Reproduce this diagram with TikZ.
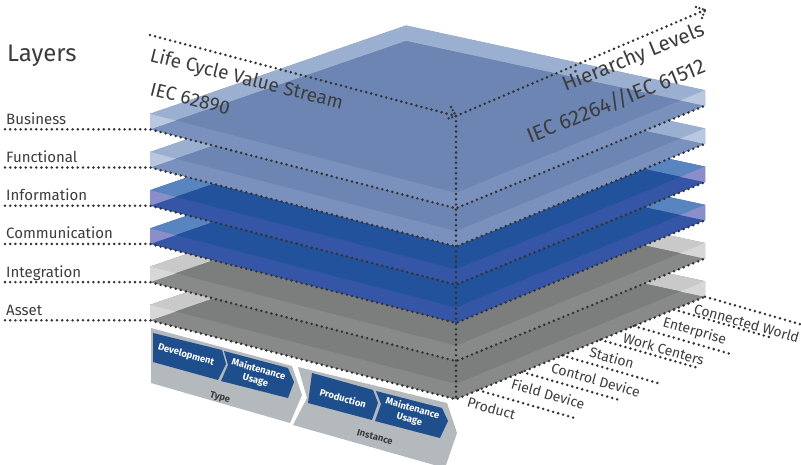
\documentclass[tikz,border=0pt]{standalone}
\usepackage{fontspec}
\setmainfont{Fira Sans}
\usetikzlibrary{calc}
\definecolor{txtgrey}{HTML}{3C3C3C}
\definecolor{dotgrey}{HTML}{333333}
\definecolor{barblue}{HTML}{1F4E8C}
\definecolor{bargrey}{HTML}{B3B9BC}
% layer colours: back band, middle, front band, corner wedge
\definecolor{paleB}{HTML}{9BAFD1}
\definecolor{paleM}{HTML}{6C85B2}
\definecolor{paleF}{HTML}{7A91BD}
\definecolor{paleW}{HTML}{B9C7DF}
\definecolor{blueB}{HTML}{5884BF}
\definecolor{blueM}{HTML}{21529B}
\definecolor{blueF}{HTML}{3556A6}
\definecolor{blueW}{HTML}{8B8ECB}
\definecolor{greyB}{HTML}{C8C9C8}
\definecolor{greyM}{HTML}{7B7E7C}
\definecolor{greyF}{HTML}{878A88}
\definecolor{greyW}{HTML}{D6D7D6}
\tikzset{
  dotline/.style = {dotgrey, line width=2.8pt, line cap=round,
    dash pattern=on 0pt off 5.2pt},
  barbline/.style = {dotgrey, line width=2.6pt, line cap=round,
    dash pattern=on 0pt off 3.6pt},
  axislabel/.style = {inner sep=0pt, txtgrey,
    font=\fontsize{19}{19}\selectfont},
  layerlabel/.style = {anchor=base west, inner sep=0pt, txtgrey,
    font=\fontsize{15}{15}\selectfont},
  hlabel/.style = {anchor=north west, inner sep=0pt, rotate=-16, txtgrey,
    font=\fontsize{14}{14}\selectfont},
  barlabel/.style = {inner sep=0pt, rotate=-16, align=center, white,
    font=\fontsize{9.5}{11}\selectfont\bfseries}
}
\begin{document}
\begin{tikzpicture}[x=1pt, y=-1pt]
\useasboundingbox (0,0) rectangle (801,464);
% layers, from the bottom up
\foreach \lay/\i/\cb/\cm/\cf/\cw in {asset/5/greyB/greyM/greyF/greyW,
    integ/4/greyB/greyM/greyF/greyW, comm/3/blueB/blueM/blueF/blueW,
    info/2/blueB/blueM/blueF/blueW, func/1/paleB/paleM/paleF/paleW,
    busi/0/paleB/paleM/paleF/paleW}{
  \pgfmathsetmacro{\d}{38.2*\i}
  \coordinate (\lay L) at (150,{129.3+\d});
  \coordinate (\lay K) at (406,{41+\d});
  \coordinate (\lay R) at (705,{105.7+\d});
  \coordinate (\lay F) at (456,{208.3+\d});
  \coordinate (\lay Lt) at (150,{113.8+\d});
  \coordinate (\lay Kt) at (406,{25.5+\d});
  \coordinate (\lay Rt) at (705,{90.2+\d});
  \coordinate (\lay Ft) at (456,{192.8+\d});
  \coordinate (\lay E) at (5,{129.3+\d});
  \coordinate (\lay Xl) at (intersection of \lay Lt--\lay Ft and \lay L--\lay K);
  \coordinate (\lay Xr) at (intersection of \lay Rt--\lay Ft and \lay R--\lay K);
  \fill[\cf] (\lay Lt) -- (\lay Kt) -- (\lay Rt) -- (\lay R) -- (\lay F) -- (\lay L) -- cycle;
  \fill[\cb] (\lay Lt) -- (\lay Kt) -- (\lay Rt) -- (\lay R) -- (\lay K) -- (\lay L) -- cycle;
  \fill[\cm] (\lay Xl) -- (\lay K) -- (\lay Xr) -- (\lay Ft) -- cycle;
  \fill[\cw] (\lay Lt) -- (\lay Xl) -- (\lay L) -- cycle;
  \fill[\cw] (\lay Rt) -- (\lay Xr) -- (\lay R) -- cycle;
}
% dotted edges of the layers
\foreach \lay in {busi, func, info, comm, integ, asset}
  \draw[dotline] (\lay E) -- (\lay L) -- (\lay F) -- (\lay R);
% axes, with dotted barbs at their ends
\coordinate (lcstart) at (150,35);
\coordinate (corner) at (456,116);
\coordinate (hlend) at (705,10);
\coordinate (lcbarbA) at ($(corner)+(-5,-9)$);
\coordinate (lcbarbB) at ($(corner)+(-9,3)$);
\coordinate (hlbarbA) at ($(hlend)+(-9,-3)$);
\coordinate (hlbarbB) at ($(hlend)+(-3,8)$);
\draw[dotline] (lcstart) -- (corner);
\draw[dotline] (corner) -- (hlend);
\draw[dotline] (corner) -- (assetF);
\draw[barbline] (lcbarbA) -- (corner) -- (lcbarbB);
\draw[barbline] (hlbarbA) -- (hlend) -- (hlbarbB);
% hierarchy levels
\foreach \name/\f/\k in {Product/0.089/1, Field Device/0.266/2,
    Control Device/0.427/3, Station/0.58/4, Work Centers/0.714/5,
    Enterprise/0.875/6, Connected World/1.0/7}{
  \coordinate (hs\k) at ($(assetF)!\f!(assetR)$);
  \coordinate (he\k) at ($(hs\k)+(97,28)$);
  \draw[dotline] (hs\k) -- (he\k);
  \node[hlabel] (hl\k) at ($(hs\k)+(-9,6)$) {\name};
}
% life cycle bar
\fill[bargrey] (151,328) -- (292,366) -- (302,395) -- (290,423) -- (151,383) -- cycle;
\fill[bargrey] (298,367) -- (447,403) -- (457,433) -- (445,468) -- (293,425) -- (307,398) -- cycle;
\fill[barblue] (153,333) -- (222,350) -- (226,364) -- (218,380) -- (153,362) -- cycle;
\fill[barblue] (224,351) -- (288,368) -- (294,382) -- (288,398) -- (221,381) -- (228,365) -- cycle;
\fill[barblue] (312,373) -- (373,390) -- (378,403) -- (372,420) -- (308,403) -- cycle;
\fill[barblue] (376,391) -- (442,408) -- (448,421) -- (440,438) -- (375,421) -- (381,404) -- cycle;
\node[barlabel] (dev) at (186,355) {Development};
\node[barlabel] (mtype) at (257,375) {Maintenance\\Usage};
\node[barlabel, txtgrey] (type) at (220,398) {Type};
\node[barlabel] (prod) at (343,398) {Production};
\node[barlabel] (minst) at (411,414) {Maintenance\\Usage};
\node[barlabel, txtgrey] (inst) at (375,437) {Instance};
% texts
\node[axislabel, anchor=base west, font=\fontsize{24}{24}\selectfont] (layers) at (7,61) {Layers};
\node[axislabel, anchor=base west, rotate=-14] (lcvs) at (149,61) {Life Cycle Value Stream};
\node[axislabel, anchor=base west, rotate=-14] (iec1) at (149,95) {IEC 62890};
\node[axislabel, anchor=base east, rotate=22, font=\fontsize{20.5}{20.5}\selectfont] (hier) at (706,35) {Hierarchy Levels};
\node[axislabel, anchor=base east, rotate=22, font=\fontsize{21}{21}\selectfont] (iec2) at (707,72) {IEC 62264//IEC 61512};
\foreach \name/\i in {Business/0, Functional/1, Information/2,
    Communication/3, Integration/4, Asset/5}
  \node[layerlabel] (lab\i) at (6,{124.3+38.2*\i}) {\name};
\end{tikzpicture}
\end{document}
